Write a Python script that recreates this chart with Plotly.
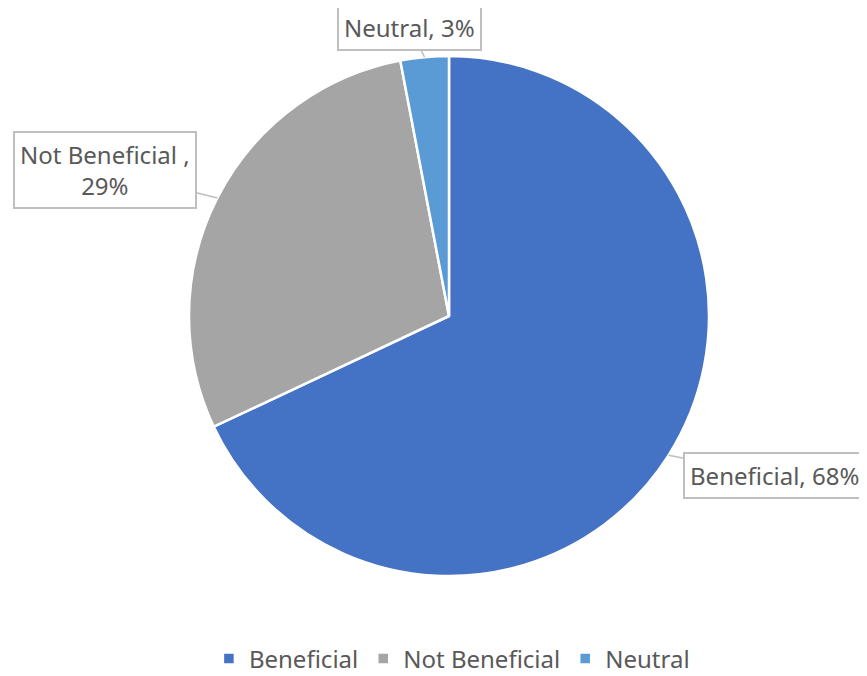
import math
import plotly.graph_objects as go

categories = ["Beneficial", "Not Beneficial", "Neutral"]
values = [68, 29, 3]
label_texts = ["Beneficial, 68%", "Not Beneficial ,<br>29%", "Neutral, 3%"]
colors = ["#4472C4", "#A5A5A5", "#5B9BD5"]

W, H = 867, 676
cx, cy, R = 441, 308, 260  # pixel centre / radius of pie (figure coords)

fig = go.Figure(go.Pie(
    labels=categories, values=values, sort=False, direction="clockwise",
    rotation=0, textinfo="none", hoverinfo="label+percent",
    marker=dict(colors=colors, line=dict(color="white", width=2.5)),
    domain=dict(x=[(cx - R) / W, (cx + R) / W], y=[1 - (cy + R) / H, 1 - (cy - R) / H]),
))

# callout offsets (pixels from rim point to box centre)
offsets = [(106, 20), (-112, -28), (-15, -30)]
total = sum(values)
cum = 0
annotations = []
for cat, v, txt, (ax, ay) in zip(categories, values, label_texts, offsets):
    mid = (cum + v / 2) / total * 2 * math.pi
    cum += v
    px = cx + R * math.sin(mid)
    py = cy - R * math.cos(mid)
    annotations.append(dict(
        x=px / W, y=1 - py / H, xref="paper", yref="paper",
        text=txt, showarrow=True, arrowhead=0, arrowwidth=1.5, arrowcolor="#BFBFBF",
        ax=ax, ay=ay, standoff=0,
        font=dict(family="Noto Sans", size=24, color="#595959"),
        bgcolor="white", bordercolor="#BFBFBF", borderwidth=2, borderpad=5,
        align="center",
    ))

fig.update_layout(
    width=W, height=H,
    margin=dict(l=0, r=0, t=0, b=0, autoexpand=False),
    paper_bgcolor="white", plot_bgcolor="white",
    showlegend=True,
    legend=dict(orientation="h", x=0.512, xanchor="center", y=0.004, yanchor="bottom",
                font=dict(family="Noto Sans", size=24, color="#595959"),
                itemwidth=30, traceorder="normal"),
    annotations=annotations,
)

fig.write_html("out.html")
